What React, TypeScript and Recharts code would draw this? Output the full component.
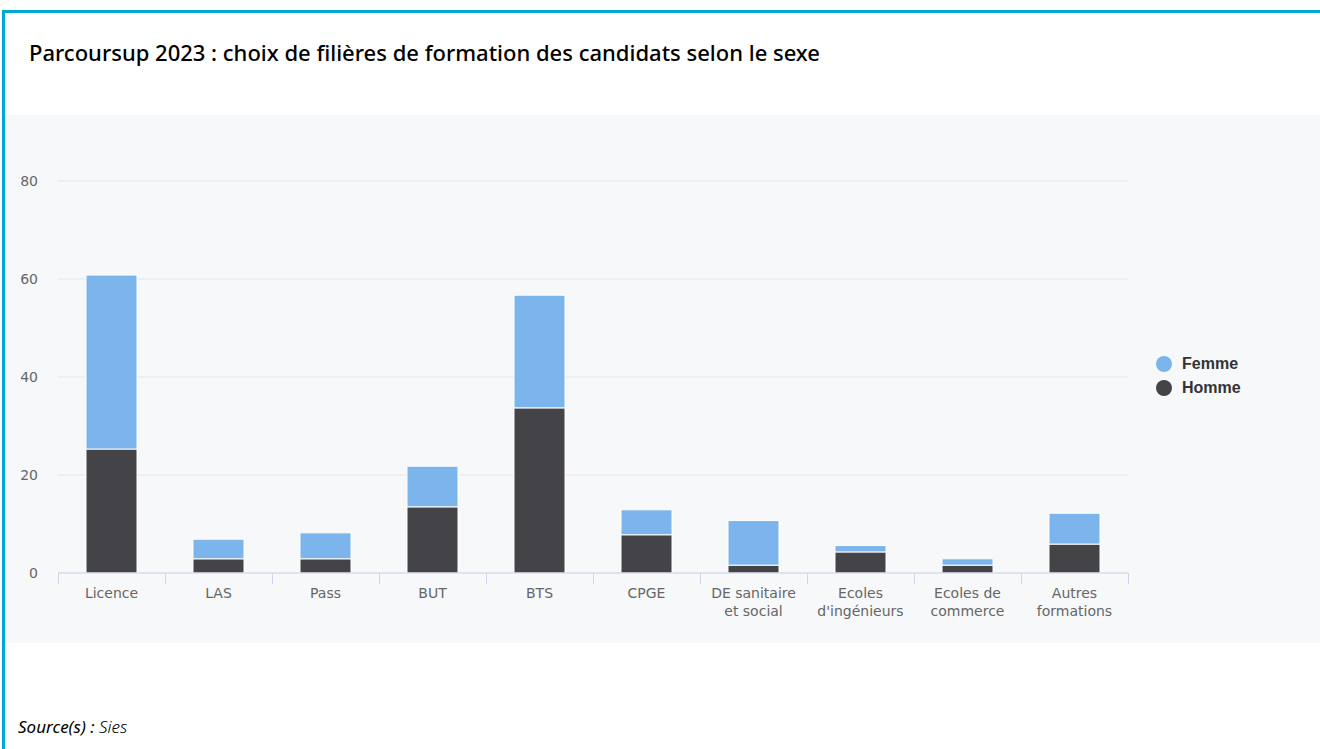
import { BarChart, Bar, XAxis, YAxis, CartesianGrid } from 'recharts';

const categories = [
  'Licence',
  'LAS',
  'Pass',
  'BUT',
  'BTS',
  'CPGE',
  'DE sanitaire\net social',
  "Ecoles\nd'ingénieurs",
  'Ecoles de\ncommerce',
  'Autres\nformations'
];
const homme = [25.3, 2.9, 2.9, 13.5, 33.7, 7.8, 1.6, 4.3, 1.6, 5.9];
const femme = [35.5, 4.0, 5.3, 8.3, 23.0, 5.1, 9.1, 1.3, 1.3, 6.3];
const yTicks = [0, 20, 40, 60, 80];

const chartData = categories.map((name, i) => ({ name, Homme: homme[i], Femme: femme[i] }));

const FEMME = '#7cb5ec';
const HOMME = '#434348';
const AXIS_FONT = '"DejaVu Sans", sans-serif';

const CategoryTick = (props: any) => {
  const { x, y, payload, index } = props;
  const half = payload?.offset ?? 53.5;
  const lines = String(payload.value).split('\n');
  const left = Math.round(x - half) + 0.5;
  const right = Math.round(x + half) + 0.5;
  return (
    <g>
      <line x1={left} x2={left} y1={y} y2={y + 11} stroke="#ccd6eb" />
      {index === categories.length - 1 && (
        <line x1={right} x2={right} y1={y} y2={y + 11} stroke="#ccd6eb" />
      )}
      <text x={x} y={y + 25} textAnchor="middle" fill="#666666" fontSize={14} fontFamily={AXIS_FONT}>
        {lines.map((l, i) => (
          <tspan key={i} x={x} dy={i === 0 ? 0 : 18}>{l}</tspan>
        ))}
      </text>
    </g>
  );
};

const App = () => {
  return (
    <div style={{ position: 'absolute', left: 0, top: 0, width: 1320, height: 749, background: '#fff', overflow: 'hidden' }}>
      <div
        style={{
          position: 'absolute',
          left: 2,
          top: 10,
          width: 1330,
          height: 760,
          borderTop: '3px solid #00a8d4',
          borderLeft: '3px solid #00a8d4'
        }}
      />
      <div
        style={{
          position: 'absolute',
          left: 29,
          top: 37,
          fontFamily: '"Noto Sans", sans-serif',
          fontSize: 22,
          fontWeight: 500,
          lineHeight: '30px',
          color: '#000',
          whiteSpace: 'nowrap'
        }}
      >
        Parcoursup 2023 : choix de filières de formation des candidats selon le sexe
      </div>

      <div style={{ position: 'absolute', left: 5, top: 115, width: 1315, height: 528, background: '#f7f8fa' }}>
        <BarChart width={1315} height={528} data={chartData} margin={{ top: 66, right: 192, bottom: 0, left: 0 }}>
          <CartesianGrid vertical={false} stroke="#e6e6e6" />
          <XAxis
            dataKey="name"
            height={70}
            interval={0}
            axisLine={{ stroke: '#ccd6eb' }}
            tickLine={false}
            tickSize={0}
            tickMargin={0}
            tick={<CategoryTick />}
          />
          <YAxis
            width={53}
            domain={[0, 80]}
            ticks={yTicks}
            axisLine={false}
            tickLine={false}
            tickSize={0}
            tickMargin={20}
            tick={{ fill: '#666666', fontSize: 14, fontFamily: AXIS_FONT }}
          />
          <Bar dataKey="Homme" stackId="a" fill={HOMME} stroke="#fff" strokeWidth={1} barSize={51} isAnimationActive={false} />
          <Bar dataKey="Femme" stackId="a" fill={FEMME} stroke="#fff" strokeWidth={1} barSize={51} isAnimationActive={false} />
        </BarChart>
      </div>

      {[
        { name: 'Femme', color: FEMME, y: 364 },
        { name: 'Homme', color: HOMME, y: 388 }
      ].map((item) => (
        <div key={item.name} style={{ position: 'absolute', left: 1156, top: item.y - 10, height: 20, display: 'flex', alignItems: 'center' }}>
          <span style={{ width: 16, height: 16, borderRadius: '50%', background: item.color, display: 'inline-block' }} />
          <span
            style={{
              marginLeft: 10,
              fontFamily: '"Liberation Sans", sans-serif',
              fontWeight: 'bold',
              fontSize: 16,
              color: '#333333'
            }}
          >
            {item.name}
          </span>
        </div>
      ))}

      <div
        style={{
          position: 'absolute',
          left: 18,
          top: 715,
          fontFamily: '"Noto Sans", sans-serif',
          fontStyle: 'italic',
          fontSize: 17,
          lineHeight: '24px',
          color: '#000'
        }}
      >
        Source(s) : <span style={{ fontWeight: 300 }}>Sies</span>
      </div>
    </div>
  );
};

export default App;
